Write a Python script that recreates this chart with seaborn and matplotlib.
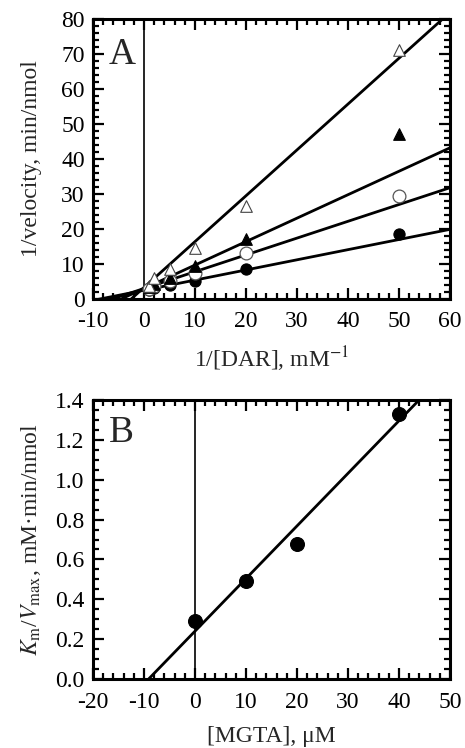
import numpy as np
import pandas as pd
import matplotlib
matplotlib.use("Agg")
import matplotlib.pyplot as plt
import seaborn as sns
from matplotlib.ticker import MultipleLocator

# Panel A: double reciprocal data, one series per MGTA level
inv_dar = [1, 2, 5, 10, 20, 50]
filled_circle = [2.6, 3.2, 3.9, 5.0, 8.5, 18.5]
open_circle = [2.9, 3.6, 5.0, 7.5, 13.0, 29.5]
filled_tri = [3.3, 4.2, 6.0, 9.5, 17.0, 47.0]
open_tri = [3.6, 6.0, 8.5, 14.5, 26.5, 71.0]

# fitted lines (slope, intercept) for each series
line_slopes = [0.29, 0.48, 0.67, 1.31]
line_intercepts = [2.5, 3.0, 3.0, 3.3]

# Panel B: secondary plot
mgta = [0, 10, 20, 40]
km_vmax = [0.29, 0.49, 0.675, 1.33]
b_slope = 0.0264
b_intercept = 0.24

sns.set_style("ticks")
plt.rcParams['font.family'] = ['Liberation Serif', 'DejaVu Serif']
plt.rcParams['mathtext.fontset'] = 'stix'
plt.rcParams['axes.unicode_minus'] = False
plt.rcParams['font.size'] = 17

fig = plt.figure(figsize=(4.65, 7.48), dpi=100)
W, H = 465, 748
axA = fig.add_axes([93 / W, 1 - 299 / H, 357 / W, 280 / H])
axB = fig.add_axes([93 / W, 1 - 679 / H, 357 / W, 279 / H])

series = pd.DataFrame({
    'x': inv_dar * 4,
    'y': filled_circle + open_circle + filled_tri + open_tri,
    'grp': ['fc'] * 6 + ['oc'] * 6 + ['ft'] * 6 + ['ot'] * 6,
})

# lines first
xx = np.array([-10, 60])
for m, b in zip(line_slopes, line_intercepts):
    sns.lineplot(x=xx, y=m * xx + b, ax=axA, color='black', lw=2.0)

styles = {
    'fc': dict(marker='o', facecolor='black', edgecolor='black', s=65, linewidth=0.8),
    'oc': dict(marker='o', facecolor='white', edgecolor='#555555', s=85, linewidth=0.9),
    'ft': dict(marker='^', facecolor='black', edgecolor='black', s=70, linewidth=0.8),
    'ot': dict(marker='^', facecolor='white', edgecolor='#444444', s=70, linewidth=0.8),
}
for g, st in styles.items():
    d = series[series.grp == g]
    sns.scatterplot(data=d, x='x', y='y', ax=axA, zorder=3, **st)

axA.axvline(0, color='black', lw=1.2)
axA.set_xlim(-10, 60)
axA.set_ylim(0, 80)
axA.xaxis.set_major_locator(MultipleLocator(10))
axA.xaxis.set_minor_locator(MultipleLocator(2))
axA.yaxis.set_major_locator(MultipleLocator(10))
axA.yaxis.set_minor_locator(MultipleLocator(2))
axA.set_xlabel('1/[DAR], mM$^{\u22121}$', labelpad=9)
axA.set_ylabel('1/velocity, min/nmol', labelpad=14)
axA.text(0.045, 0.935, 'A', transform=axA.transAxes, fontsize=27, va='top', ha='left')

# panel B
xb = np.array([-20, 50])
sns.lineplot(x=xb, y=b_slope * xb + b_intercept, ax=axB, color='black', lw=2.0)
sns.scatterplot(x=mgta, y=km_vmax, ax=axB, color='black', s=100, zorder=3, edgecolor='black')
axB.axvline(0, color='black', lw=1.2)
axB.set_xlim(-20, 50)
axB.set_ylim(0, 1.4)
axB.xaxis.set_major_locator(MultipleLocator(10))
axB.xaxis.set_minor_locator(MultipleLocator(2))
axB.yaxis.set_major_locator(MultipleLocator(0.2))
axB.yaxis.set_minor_locator(MultipleLocator(0.05))
axB.yaxis.set_major_formatter(matplotlib.ticker.FormatStrFormatter('%.1f'))
axB.set_xlabel('[MGTA], \u03bcM', labelpad=10)
axB.set_ylabel('$K_{\\mathrm{m}}$/$V_{\\mathrm{max}}$, mM\u00b7min/nmol', labelpad=9)
axB.text(0.045, 0.945, 'B', transform=axB.transAxes, fontsize=27, va='top', ha='left')

for ax in (axA, axB):
    for sp in ax.spines.values():
        sp.set_linewidth(2.2)
        sp.set_color('black')
        sp.set_visible(True)
    ax.tick_params(which='both', direction='in', top=True, right=True, width=1.6, colors='black')
    ax.tick_params(which='major', length=8, labelsize=17)
    ax.tick_params(axis='x', which='major', pad=9)
    ax.tick_params(axis='y', which='major', pad=6)
    ax.tick_params(which='minor', length=4)
    ax.set_facecolor('white')

fig.savefig('out.png', dpi=100, facecolor='white')
